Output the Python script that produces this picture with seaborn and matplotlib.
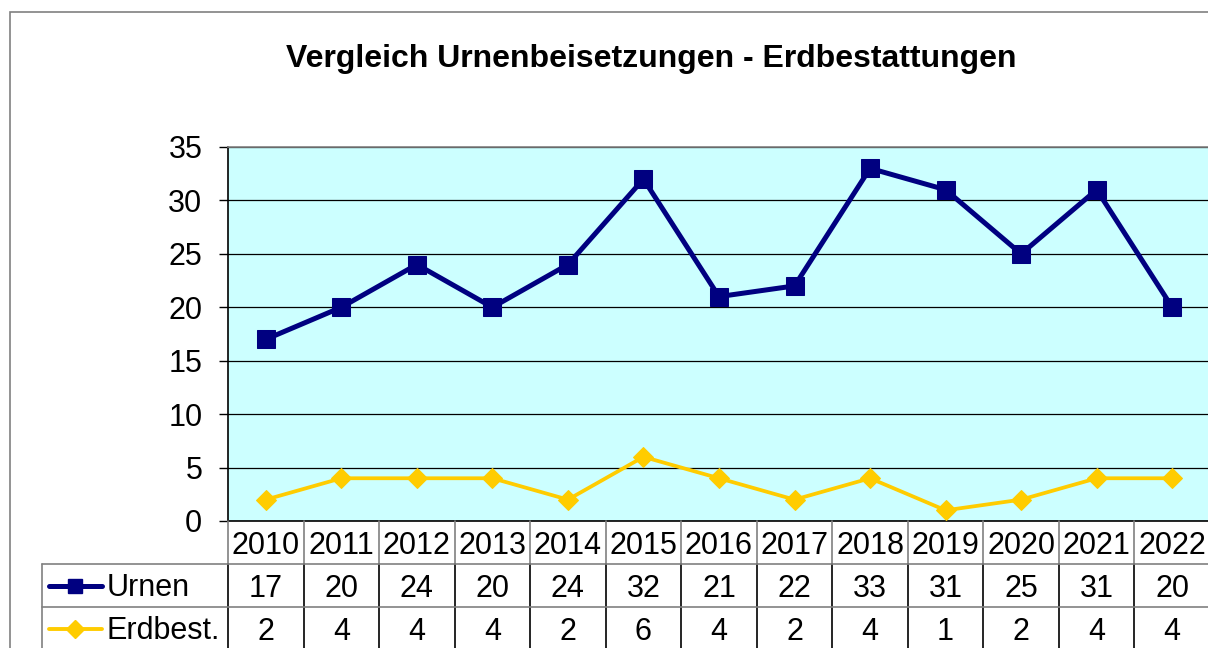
import numpy as np
import pandas as pd
import matplotlib
matplotlib.use("Agg")
import matplotlib.pyplot as plt
import seaborn as sns
from matplotlib.patches import Rectangle
from matplotlib.lines import Line2D

years = ["2010", "2011", "2012", "2013", "2014", "2015", "2016",
         "2017", "2018", "2019", "2020", "2021", "2022"]
urnen = [17, 20, 24, 20, 24, 32, 21, 22, 33, 31, 25, 31, 20]
erdbest = [2, 4, 4, 4, 2, 6, 4, 2, 4, 1, 2, 4, 4]
series_names = ["Urnen", "Erdbest."]
title = "Vergleich Urnenbeisetzungen - Erdbestattungen"

navy = "#000080"
gold = "#FFCC00"
fs = 22

sns.set_theme(style="white")
plt.rcParams["font.family"] = ["Liberation Sans", "DejaVu Sans"]
plt.rcParams["text.color"] = "black"
plt.rcParams["ytick.color"] = "black"

W, H = 1208, 648
fig = plt.figure(figsize=(W / 100, H / 100), dpi=100)

def box(x0, y0, x1, y1):
    return [x0 / W, 1 - y1 / H, (x1 - x0) / W, (y1 - y0) / H]

# outer chart border
fig.patches.append(Rectangle((10 / W, -0.1), 1.2, 1 - 12 / H + 0.1,
                             transform=fig.transFigure, fill=False,
                             edgecolor="#808080", linewidth=1.2))

fig.text(651 / W, 1 - 59 / H, title, ha="center", va="center",
         fontsize=23, fontweight="bold", color="black")

df = pd.DataFrame({"x": np.arange(len(years)), "Urnen": urnen, "Erdbest.": erdbest})

ax = fig.add_axes(box(228, 147, 1210, 521))
ax.set_facecolor("#CCFFFF")
sns.lineplot(data=df, x="x", y="Urnen", ax=ax, color=navy, linewidth=3.6,
             marker="s", markersize=12.5, markeredgecolor=navy, zorder=4)
sns.lineplot(data=df, x="x", y="Erdbest.", ax=ax, color=gold, linewidth=2.7,
             marker="D", markersize=10.5, markeredgecolor=gold, zorder=4)
ax.set_xlim(-0.5, len(years) - 0.5)
ax.set_ylim(0, 35)
ax.set_yticks(range(0, 36, 5))
ax.set_xticks([])
ax.set_xlabel("")
ax.set_ylabel("")
ax.yaxis.grid(True, color="black", linewidth=0.9)
ax.set_axisbelow(True)
ax.tick_params(axis="y", direction="out", length=6.5, width=1, color="black",
               pad=12, labelsize=fs, left=True, labelcolor="black")
for side in ["left", "bottom"]:
    ax.spines[side].set_color("black")
    ax.spines[side].set_linewidth(1.2)
for side in ["top", "right"]:
    ax.spines[side].set_color("#808080")
    ax.spines[side].set_linewidth(1.2)

# data table
tab = fig.add_axes(box(228, 521, 1210, 650))
tab.set_xlim(-0.5, len(years) - 0.5)
tab.set_ylim(3, 0)
tab.axis("off")
unit = (1210 - 228) / len(years)

def px2x(px):
    return -0.5 + (px - 228) / unit

left = px2x(42)

for i, yr in enumerate(years):
    tab.text(i, 0.57, yr, ha="center", va="center", fontsize=fs, color="black")
    tab.text(i, 1.57, str(urnen[i]), ha="center", va="center", fontsize=fs, color="black")
    tab.text(i, 2.57, str(erdbest[i]), ha="center", va="center", fontsize=fs, color="black")

for k in range(len(years) + 1):
    xk = -0.5 + k
    tab.plot([xk, xk], [0, 1], color="#808080", linewidth=1.2, clip_on=False)
    tab.plot([xk, xk], [1, 3], color="black", linewidth=1.2, clip_on=False)
for r in [1, 2, 3]:
    tab.plot([left, len(years) - 0.5], [r, r], color="#808080", linewidth=1.2,
             clip_on=False)
tab.plot([left, left], [1, 3], color="#808080", linewidth=1.2, clip_on=False)

# legend keys in row headers
keys = [(series_names[0], navy, "s", 10.5, 3.6), (series_names[1], gold, "D", 9, 2.8)]
for r, (name, col, mk, ms, lw) in enumerate(keys):
    yc = 1.5 + r
    tab.add_line(Line2D([px2x(49), px2x(102)], [yc, yc], color=col, linewidth=lw,
                        solid_capstyle="round", clip_on=False))
    tab.add_line(Line2D([px2x(75.5)], [yc], color=col, marker=mk, markersize=ms,
                        markeredgecolor=col, linestyle="none", clip_on=False))
    tab.text(px2x(107), yc + 0.05, name, ha="left", va="center", fontsize=fs,
             color="black", clip_on=False)

fig.savefig("out.png", dpi=100)
